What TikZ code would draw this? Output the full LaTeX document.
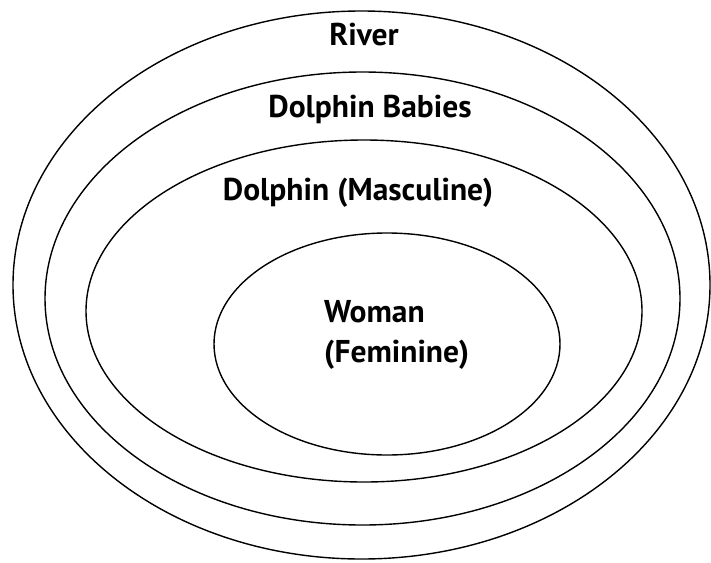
\documentclass[tikz,border=0pt]{standalone}
\usepackage{fontspec}
\setmainfont{PT Sans}
\usetikzlibrary{shapes.geometric}
\begin{document}
\begin{tikzpicture}[
    x=1pt, y=-1pt,
    ring/.style={draw, ellipse, line width=1.4pt, inner sep=0pt},
    label/.style={font=\fontsize{31.5}{40}\selectfont\bfseries, inner sep=0pt}
]
\useasboundingbox (0,0) rectangle (711,562);
% Ellipses, outer to inner
\node[ring, minimum width=697pt, minimum height=548pt] (river) at (361.5,285) {};
\node[ring, minimum width=635pt, minimum height=453pt] (babies) at (362.5,298.5) {};
\node[ring, minimum width=556pt, minimum height=342pt] (masculine) at (364,311) {};
\node[ring, minimum width=346pt, minimum height=222pt] (woman) at (387,344) {};
% Labels
\node[label, anchor=base] (riverlbl) at (364,45) {River};
\node[label, anchor=base] (babieslbl) at (370,117) {Dolphin Babies};
\node[label, anchor=base] (masclbl) at (358,200) {Dolphin (Masculine)};
\node[label, anchor=base west] (womanlbl) at (324,322) {Woman};
\node[label, anchor=base west] (femlbl) at (324,362) {(Feminine)};
\end{tikzpicture}
\end{document}
